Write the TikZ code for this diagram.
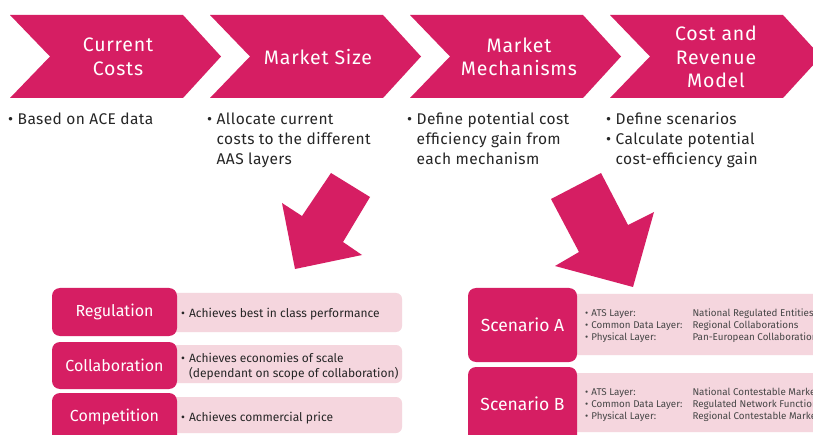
\documentclass[tikz,border=0pt]{standalone}
\usepackage{fontspec}
\setmainfont{Fira Sans}
\newfontfamily\spacedfont[LetterSpace=4]{Fira Sans}
\newfontfamily\widefont[LetterSpace=2.5]{Fira Sans}
\definecolor{brand}{RGB}{214,30,99}
\definecolor{blush}{RGB}{245,214,222}
\definecolor{ink}{RGB}{38,38,38}
\definecolor{inkgray}{RGB}{70,70,70}

\begin{document}
\begin{tikzpicture}[x=1pt,y=-1pt,
  chevfill/.style={fill=brand},
  title/.style={text=white, font=\spacedfont\fontsize{19.5}{23.5}\selectfont, align=center, inner sep=0},
  bullets/.style={anchor=base west, inner sep=0, text=ink, font=\widefont\fontsize{15.5}{20}\selectfont},
  darkbox/.style={fill=brand, rounded corners=8pt},
  lightbox/.style={fill=blush, rounded corners=6pt},
  boxtitle/.style={text=white, inner sep=0, font=\fontsize{16}{19}\selectfont},
  scentitle/.style={text=white, inner sep=0, font=\fontsize{17.5}{21}\selectfont},
  rowtext/.style={anchor=base west, inner sep=0, text=ink, font=\fontsize{12}{15}\selectfont},
  smalltext/.style={anchor=base west, inner sep=0, text=inkgray, font=\fontsize{9.8}{12}\selectfont},
  blockarrow/.style={fill=brand}
]
\useasboundingbox (0,0) rectangle (813,435);
\clip (0,0) rectangle (813,435);
\fill[white] (0,0) rectangle (813,435);

% process chevrons
\foreach \x in {10,210,410,610}
  \fill[chevfill] (\x,15) -- ++(173,0) -- ++(38,41.5) -- ++(-38,41.5) -- ++(-173,0) -- ++(40,-41.5) -- cycle;

\node[title] (t1) at (118,57) {Current\\Costs};
\node[title] (t2) at (318,57) {Market Size};
\node[title] (t3) at (519,57) {Market\\Mechanisms};
\node[title] (t4) at (716,57) {Cost and\\Revenue\\Model};

% step descriptions
\node[bullets] (d1) at (8,125) {\begin{tabular}[t]{@{}l@{\hspace{4.5pt}}l@{}}•&Based on ACE data\end{tabular}};
\node[bullets] (d2) at (207,125) {\begin{tabular}[t]{@{}l@{\hspace{4.5pt}}l@{}}•&Allocate current\\&costs to the different\\&AAS layers\end{tabular}};
\node[bullets] (d3) at (407,125) {\begin{tabular}[t]{@{}l@{\hspace{4.5pt}}l@{}}•&Define potential cost\\&efficiency gain from\\&each mechanism\end{tabular}};
\node[bullets] (d4) at (606,125) {\begin{tabular}[t]{@{}l@{\hspace{4.5pt}}l@{}}•&Define scenarios\\•&Calculate potential\\&cost-efficiency gain\end{tabular}};

% block arrows
\fill[blockarrow] (331,173) -- (370,197) -- (343,242) -- (362,255) -- (295,269) -- (282,203) -- (302,216) -- cycle;
\fill[blockarrow] (601,173) -- (628,225) -- (654,212) -- (633,287) -- (555,266) -- (579,252) -- (551,199) -- cycle;

% market mechanisms table
\fill[lightbox] (170,293) rectangle (402,332);
\fill[lightbox] (170,345) rectangle (402,383);
\fill[lightbox] (170,397) rectangle (402,433);
\fill[darkbox] (52,288) rectangle (177,336);
\fill[darkbox] (52,342) rectangle (177,389);
\fill[darkbox] (52,393) rectangle (177,445);
\node[boxtitle] (m1) at (114.5,312) {Regulation};
\node[boxtitle] (m2) at (114.5,365.5) {Collaboration};
\node[boxtitle] (m3) at (114.5,417) {Competition};
\node[rowtext] (r1) at (181,317) {\begin{tabular}[t]{@{}l@{\hspace{4pt}}l@{}}•&Achieves best in class performance\end{tabular}};
\node[rowtext] (r2) at (181,362) {\begin{tabular}[t]{@{}l@{\hspace{4pt}}l@{}}•&Achieves economies of scale\\&(dependant on scope of collaboration)\end{tabular}};
\node[rowtext] (r3) at (181,421) {\begin{tabular}[t]{@{}l@{\hspace{4pt}}l@{}}•&Achieves commercial price\end{tabular}};

% scenario table
\fill[lightbox] (570,294) rectangle (840,355);
\fill[lightbox] (570,373) rectangle (840,432);
\fill[darkbox] (468,288) rectangle (577,362);
\fill[darkbox] (468,367) rectangle (577,445);
\node[scentitle] (sa) at (522.5,325) {Scenario A};
\node[scentitle] (sb) at (522.5,404) {Scenario B};
\node[smalltext] (sa1) at (585,316.5) {\begin{tabular}[t]{@{}l@{\hspace{3pt}}l@{\hspace{10pt}}l@{}}
  •&ATS Layer:&National Regulated Entities\\
  •&Common Data Layer:&Regional Collaborations\\
  •&Physical Layer:&Pan-European Collaborations\end{tabular}};
\node[smalltext] (sb1) at (585,395.5) {\begin{tabular}[t]{@{}l@{\hspace{3pt}}l@{\hspace{10pt}}l@{}}
  •&ATS Layer:&National Contestable Markets\\
  •&Common Data Layer:&Regulated Network Functions\\
  •&Physical Layer:&Regional Contestable Markets\end{tabular}};
\end{tikzpicture}
\end{document}
